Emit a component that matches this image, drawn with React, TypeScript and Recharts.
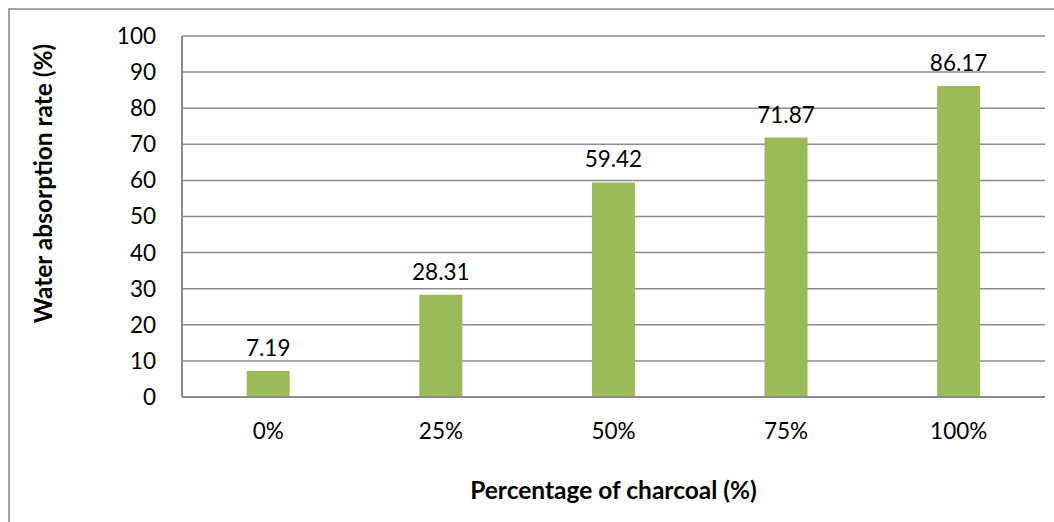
import React from 'react';
import { BarChart, Bar, XAxis, YAxis, CartesianGrid, LabelList, Label } from 'recharts';

const categories = ['0%', '25%', '50%', '75%', '100%'];
const absorption = [7.19, 28.31, 59.42, 71.87, 86.17];
const yTicks = [0, 10, 20, 30, 40, 50, 60, 70, 80, 90, 100];

const data = categories.map((name, i) => ({ name, value: absorption[i] }));

const FONT = 'Lato, "Open Sans", sans-serif';

const YTitle = (props: any) => {
  const { viewBox } = props;
  const x = 42;
  const y = viewBox.y + viewBox.height / 2 - 33;
  return (
    <text
      x={x}
      y={y}
      transform={`rotate(-90, ${x}, ${y})`}
      textAnchor="middle"
      dominantBaseline="central"
      fontFamily={FONT}
      fontWeight="bold"
      fontSize={24.5}
      fill="#000"
    >
      Water absorption rate (%)
    </text>
  );
};

export default function App() {
  return (
    <div style={{ position: 'absolute', left: 0, top: 0, width: 1054, height: 522, background: '#fff', overflow: 'hidden' }}>
      <div style={{ position: 'absolute', left: 8, top: 8, width: 1060, height: 530, border: '2px solid #a3a3a3' }} />
      <div style={{ position: 'absolute', left: 0, top: 0 }}>
        <BarChart
          width={1054}
          height={522}
          data={data}
          margin={{ top: 36, right: 9, bottom: 95, left: 102 }}
          barCategoryGap="37.5%"
        >
          <CartesianGrid vertical={false} stroke="#8c8c8c" strokeWidth={1.5} />
          <XAxis
            dataKey="name"
            axisLine={{ stroke: '#8c8c8c', strokeWidth: 2 }}
            tickLine={false}
            tickMargin={20}
            tick={{ fill: '#000', fontSize: 22.5, fontFamily: FONT }}
          >
            <Label
              value="Percentage of charcoal (%)"
              position="bottom"
              offset={55}
              style={{ fontFamily: FONT, fontWeight: 'bold', fontSize: 24.5, fill: '#000' }}
            />
          </XAxis>
          <XAxis xAxisId="top" orientation="top" dataKey="name" height={0} tick={false} tickLine={false} axisLine={{ stroke: '#000', strokeWidth: 2 }} />
          <YAxis
            width={80}
            domain={[0, 100]}
            ticks={yTicks}
            interval={0}
            axisLine={{ stroke: '#8c8c8c', strokeWidth: 2 }}
            tickLine={false}
            tickMargin={20}
            tick={{ fill: '#000', fontSize: 22.5, fontFamily: FONT }}
          >
            <Label content={<YTitle />} />
          </YAxis>
          <YAxis yAxisId="right" orientation="right" width={0} domain={[0, 100]} tick={false} tickLine={false} axisLine={{ stroke: '#000', strokeWidth: 2 }} />
          <Bar dataKey="value" fill="#9bbb59" isAnimationActive={false}>
            <LabelList
              dataKey="value"
              position="top"
              offset={15}
              style={{ fill: '#000', fontSize: 22.5, fontFamily: FONT }}
            />
          </Bar>
        </BarChart>
      </div>
    </div>
  );
}
